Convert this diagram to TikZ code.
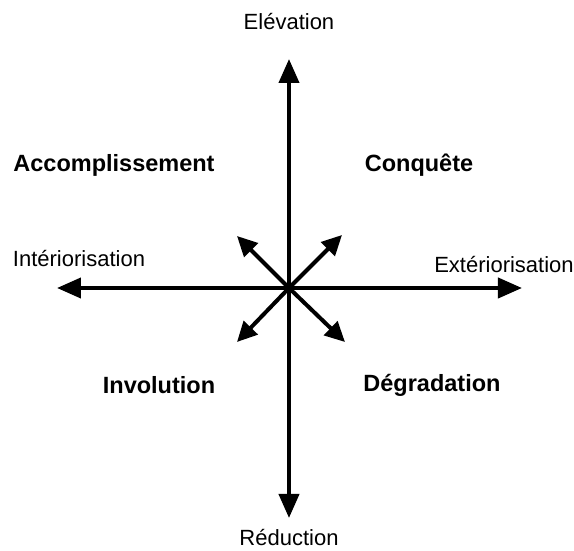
\documentclass[tikz,border=0pt]{standalone}
\usepackage{fontspec}
\setmainfont{Liberation Sans}
\usetikzlibrary{arrows.meta, positioning}

\tikzset{
    axis/.style={line width=4pt, -{Triangle[length=24pt, width=20pt]}},
    diag/.style={line width=4pt, -{Triangle[length=20pt, width=19pt]}},
    pole/.style={font=\fontsize{22}{26}\selectfont, inner sep=1pt},
    quadrant/.style={font=\fontsize{23.5}{28}\selectfont\bfseries, inner sep=1pt}
}

\begin{document}
\begin{tikzpicture}[x=1pt, y=1pt]
    \useasboundingbox (-289,-263) rectangle (285,288);

    \coordinate (o) at (0,0);
    \coordinate (up) at (0,229);
    \coordinate (down) at (0,-230);
    \coordinate (left) at (-232,0);
    \coordinate (right) at (233,0);
    \coordinate (ul) at (-52,52);
    \coordinate (ur) at (53,53);
    \coordinate (dl) at (-52,-54);
    \coordinate (dr) at (56,-54);

    % the two axes
    \draw[axis] (o) -- (up);
    \draw[axis] (o) -- (down);
    \draw[axis] (o) -- (left);
    \draw[axis] (o) -- (right);

    % short diagonals
    \draw[diag] (o) -- (ul);
    \draw[diag] (o) -- (ur);
    \draw[diag] (o) -- (dl);
    \draw[diag] (o) -- (dr);

    \node[pole, above=28pt of up] (elev) {Elévation};
    \node[pole, below=10pt of down] (red) {Réduction};
    \node[pole] (int) at (-210,29) {Intériorisation};
    \node[pole] (ext) at (215,23) {Extériorisation};

    \node[quadrant] (acc) at (-175,123) {Accomplissement};
    \node[quadrant] (conq) at (130,123) {Conquête};
    \node[quadrant] (inv) at (-130,-97) {Involution};
    \node[quadrant] (degr) at (143,-97) {Dégradation};
\end{tikzpicture}
\end{document}
